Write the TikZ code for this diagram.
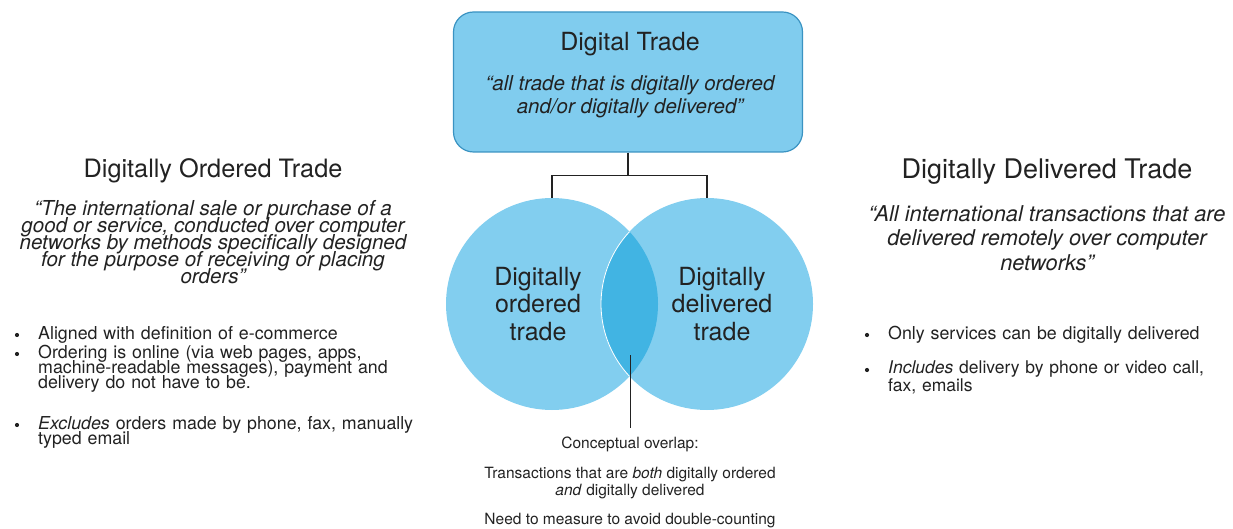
\documentclass[tikz,border=0pt]{standalone}
\usepackage{fontspec}
\setmainfont{TeX Gyre Heros}
\definecolor{boxfill}{HTML}{80CCEE}
\definecolor{boxdraw}{HTML}{3A93C2}
\definecolor{circfill}{HTML}{82CEEF}
\definecolor{overlap}{HTML}{41B4E3}
\definecolor{txt}{HTML}{222222}
\protected\def\tightls{\lineskiplimit=-100pt\relax}
\tikzset{
  every node/.style={text=txt, inner sep=0pt},
  conn/.style={draw=txt, line width=1.2pt},
  quote/.style={font=\fontsize{20.6}{17}\selectfont\itshape\tightls, align=center},
  bul/.style={font=\fontsize{17.8}{15}\selectfont\tightls, align=left, anchor=north west, text width=400pt},
  bulletdot/.style={circle, fill=txt, minimum size=4.2pt, anchor=center},
  small/.style={font=\fontsize{15.5}{17}\selectfont, align=center},
}
\begin{document}
\begin{tikzpicture}[x=1pt,y=-1pt]
\useasboundingbox (0,0) rectangle (1233,529);
% top box
\node[draw=boxdraw, fill=boxfill, line width=1.2pt, rounded corners=20pt,
      minimum width=349pt, minimum height=140pt] (top) at (628,82) {};
\node[font=\fontsize{25}{28}\selectfont] (toptitle) at (630,44) {Digital Trade};
\node[font=\fontsize{20.5}{23}\selectfont\itshape, align=center] (topquote) at (630,97)
  {``all trade that is digitally ordered\\and/or digitally delivered''};
% circles
\fill[circfill] (552,304) circle (106);
\fill[circfill] (707,304) circle (106);
\begin{scope}
  \clip (552,304) circle (106);
  \fill[overlap] (707,304) circle (106);
\end{scope}
\draw[white, line width=0.8pt] (707,304) ++(137:106) arc (137:223:106);
\node[circle, minimum size=212pt] (lc) at (552,304) {};
\node[circle, minimum size=212pt] (rc) at (707,304) {};
\node[font=\fontsize{25}{27.5}\selectfont, align=center] (lt) at (538,304) {Digitally\\ordered\\trade};
\node[font=\fontsize{25}{27.5}\selectfont, align=center] (rt) at (722,304) {Digitally\\delivered\\trade};
% connectors top
\draw[conn] (top.south) -- ++(0,23) coordinate (j);
\coordinate (jl) at (lc.north |- j);
\coordinate (jr) at (rc.north |- j);
\draw[conn] ([xshift=-0.6pt]jl) -- ([xshift=0.6pt]jr);
\draw[conn] (jl) -- (lc.north);
\draw[conn] (jr) -- (rc.north);
% overlap pointer
\coordinate (ov) at (630,355);
\node[small] (c1) at (630,444) {Conceptual overlap:};
\coordinate (ovend) at (630,428);
\draw[line width=1pt, draw=txt] (ov) -- (ovend);
\node[small] (c2) at (630,483)
  {Transactions that are \textit{both} digitally ordered\\\textit{and} digitally delivered};
\node[small] (c3) at (630,521) {Need to measure to avoid double-counting};
% left
\node[font=\fontsize{25.3}{28}\selectfont] (lh) at (213,171) {Digitally Ordered Trade};
\node[quote] (lq) at (213,242) {``The international sale or purchase of a\\good or service, conducted over computer\\networks by methods specifically designed\\for the purpose of receiving or placing\\orders''};
\node[bul] (lb1) at (38,326) {Aligned with definition of e-commerce};
\node[bul] (lb2) at (38,345) {Ordering is online (via web pages, apps,\\machine-readable messages), payment and\\delivery do not have to be.};
\node[bul] (lb3) at (38,416) {\textit{Excludes} orders made by phone, fax, manually\\typed email};
\node[bulletdot] (ld1) at ([xshift=-21pt,yshift=-9pt]lb1.north west) {};
\node[bulletdot] (ld2) at ([xshift=-21pt,yshift=-9pt]lb2.north west) {};
\node[bulletdot] (ld3) at ([xshift=-21pt,yshift=-9pt]lb3.north west) {};
% right
\node[font=\fontsize{27}{30}\selectfont] (rh) at (1047,172) {Digitally Delivered Trade};
\node[font=\fontsize{21.8}{24.5}\selectfont\itshape, align=center] (rq) at (1047,238) {``All international transactions that are\\delivered remotely over computer\\networks''};
\node[bul] (rb1) at (888,326) {Only services can be digitally delivered};
\node[bul, font=\fontsize{17.5}{18}\selectfont] (rb2) at (888,361) {\textit{Includes} delivery by phone or video call,\\fax, emails};
\node[bulletdot] (rd1) at ([xshift=-21pt,yshift=-9pt]rb1.north west) {};
\node[bulletdot] (rd2) at ([xshift=-21pt,yshift=-9pt]rb2.north west) {};
\end{tikzpicture}
\end{document}
